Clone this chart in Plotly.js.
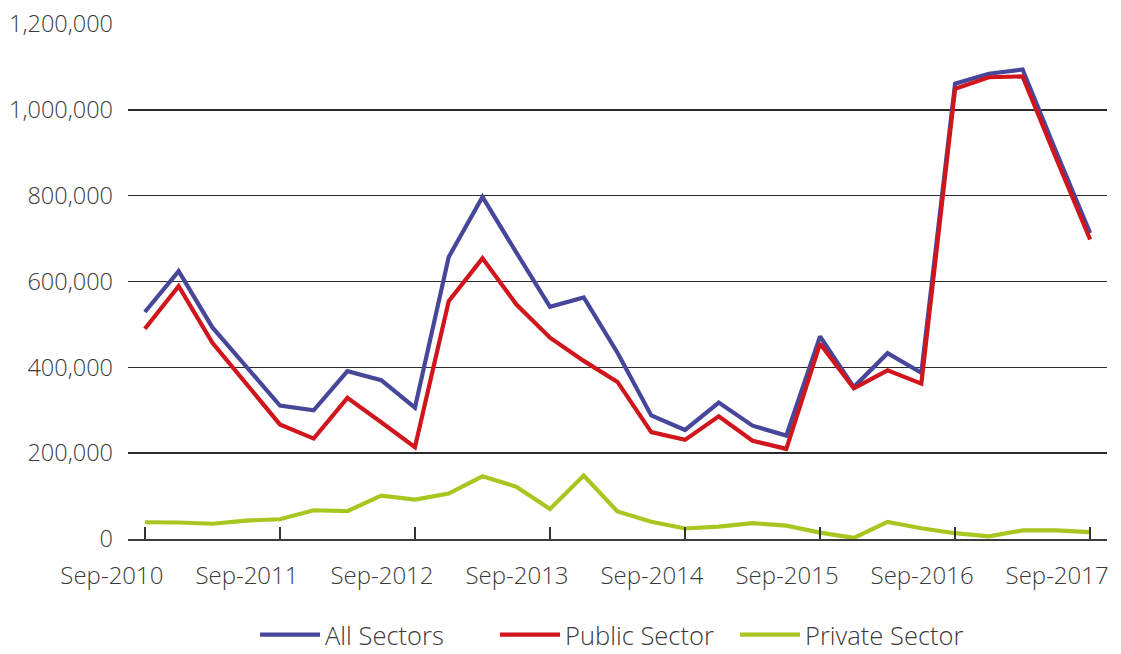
<!DOCTYPE html>
<html>
<head>
<meta charset="utf-8">
<script src="https://cdn.plot.ly/plotly-3.0.1.min.js"></script>
<style>
  html, body { margin: 0; padding: 0; background: #fff; }
  #chart { width: 1121px; height: 654px; }
</style>
</head>
<body>
<div id="chart"></div>
<script>
// Quarterly periods
const quarters = [
  "Sep-2010","Dec-2010","Mar-2011","Jun-2011",
  "Sep-2011","Dec-2011","Mar-2012","Jun-2012",
  "Sep-2012","Dec-2012","Mar-2013","Jun-2013",
  "Sep-2013","Dec-2013","Mar-2014","Jun-2014",
  "Sep-2014","Dec-2014","Mar-2015","Jun-2015",
  "Sep-2015","Dec-2015","Mar-2016","Jun-2016",
  "Sep-2016","Dec-2016","Mar-2017","Jun-2017",
  "Sep-2017"
];

const allSectors = [
  529000, 624000, 493000, 401000,
  311000, 300000, 391000, 370000,
  306000, 657000, 797000, 668000,
  541000, 563000, 434000, 288000,
  254000, 318000, 264000, 241000,
  472000, 354000, 433000, 387000,
  1061000, 1084000, 1094000, 901000,
  713000
];

const publicSector = [
  490000, 589000, 457000, 363000,
  267000, 234000, 329000, 272000,
  214000, 554000, 654000, 547000,
  469000, 415000, 366000, 249000,
  231000, 286000, 229000, 210000,
  455000, 351000, 393000, 362000,
  1049000, 1076000, 1078000, 886000,
  698000
];

const privateSector = [
  39000, 38500, 35500, 43000,
  46000, 67000, 65000, 101000,
  92000, 106000, 146000, 122000,
  70000, 148000, 64000, 40000,
  24500, 29000, 37000, 31000,
  15000, 2500, 40000, 25000,
  13500, 6000, 20000, 20000,
  16000
];

const tickLabels = ["Sep-2010","Sep-2011","Sep-2012","Sep-2013","Sep-2014","Sep-2015","Sep-2016","Sep-2017"];
const yTicks = [0, 200000, 400000, 600000, 800000, 1000000, 1200000];
const yTickText = ["0","200,000","400,000","600,000","800,000","1,000,000","1,200,000"];

const seriesNames = ["All Sectors", "Public Sector", "Private Sector"];
const seriesColors = ["#46479a", "#d0151c", "#a8c620"];
const seriesValues = [allSectors, publicSector, privateSector];

const FONT = '"Open Sans", "Noto Sans", "DejaVu Sans", sans-serif';

const traces = seriesValues.map((vals, k) => ({
  type: 'scatter',
  mode: 'lines',
  x: quarters,
  y: vals,
  name: seriesNames[k],
  line: { color: seriesColors[k], width: 4.2 },
  hoverinfo: 'skip'
}));

const layout = {
  width: 1121,
  height: 654,
  margin: { l: 128, r: 14, t: 24, b: 115 },
  paper_bgcolor: '#ffffff',
  plot_bgcolor: '#ffffff',
  font: { family: FONT, color: '#3a3a3a', size: 23, weight: 300 },
  showlegend: true,
  legend: {
    orientation: 'h',
    xref: 'container',
    yref: 'container',
    x: 255 / 1121, xanchor: 'left',
    y: 1 - 635 / 654, yanchor: 'middle',
    font: { family: FONT, size: 25.5, color: '#3a3a3a', weight: 300 },
    itemwidth: 60,
    entrywidth: 165,
    entrywidthmode: 'pixels',
    traceorder: 'normal'
  },
  xaxis: {
    type: 'category',
    range: [-0.5, 28.5],
    tickmode: 'array',
    tickvals: tickLabels,
    ticktext: tickLabels,
    ticks: 'inside',
    ticklen: 12,
    tickwidth: 1.5,
    tickcolor: '#333333',
    ticklabelshift: -33,
    ticklabelstandoff: 14,
    showgrid: false,
    showline: true,
    linecolor: '#3c3c3c',
    linewidth: 2,
    zeroline: false,
    automargin: false,
    tickfont: { family: FONT, size: 24, color: '#3a3a3a', weight: 300 },
    fixedrange: true
  },
  yaxis: {
    range: [0, 1200000],
    tickmode: 'array',
    tickvals: yTicks,
    ticktext: yTickText,
    ticks: '',
    showgrid: true,
    gridcolor: '#2a2a2a',
    gridwidth: 1.5,
    zeroline: false,
    showline: false,
    automargin: false,
    ticklabelstandoff: 14,
    tickfont: { family: FONT, size: 23.5, color: '#3a3a3a', weight: 300 },
    fixedrange: true
  }
};

Plotly.newPlot('chart', traces, layout, { displayModeBar: false, staticPlot: true });
</script>
</body>
</html>
